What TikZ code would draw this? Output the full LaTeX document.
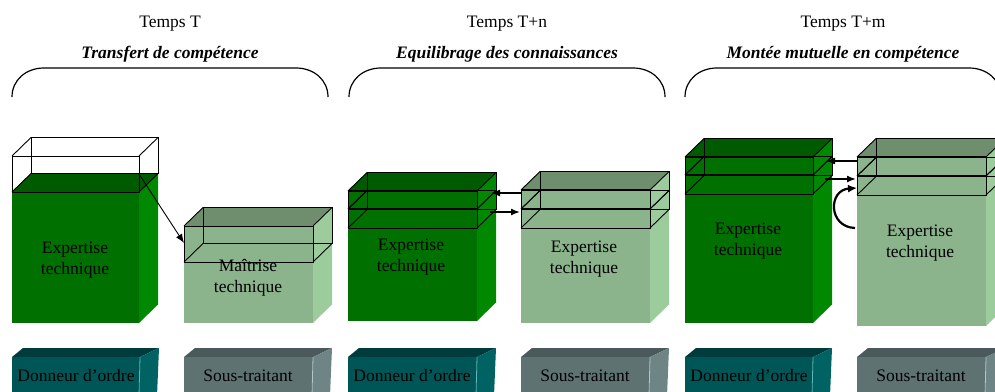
\documentclass[tikz,border=0pt]{standalone}
\usepackage{fontspec}
\setmainfont{Liberation Serif}
\usetikzlibrary{arrows.meta}

% face colours of the blocks
\definecolor{deepfront}{HTML}{007000}
\definecolor{deepside}{HTML}{008800}
\definecolor{deeptop}{HTML}{005A00}
\definecolor{palefront}{HTML}{8CB48C}
\definecolor{paleside}{HTML}{9CCC9C}
\definecolor{paletop}{HTML}{6E8E6E}
\definecolor{tealfront}{HTML}{005656}
\definecolor{tealtop}{HTML}{003C3C}
\definecolor{tealside}{HTML}{006262}
\definecolor{tealedge}{HTML}{5FB5B5}
\definecolor{slatefront}{HTML}{5E7272}
\definecolor{slatetop}{HTML}{4A5A5A}
\definecolor{slateside}{HTML}{6F8585}
\definecolor{slateedge}{HTML}{B0C8C8}

% solid block: x0 x1 ytop ybot palette
\newcommand\blockbody[5]{%
  \fill[#5front] (#1,#3) rectangle (#2,#4);
  \fill[#5side] (#2,#3) -- ++(19,-18.5) -- (#2+19,#4-18.5) -- (#2,#4) -- cycle;
  \fill[#5top] (#1,#3) -- ++(19,-18.5) -- (#2+19,#3-18.5) -- (#2,#3) -- cycle;
}
% wire-frame layer: x0 x1 ytop ybot
\newcommand\wirelayer[4]{%
  \draw[wire] (#1,#3) rectangle (#2,#4);
  \draw[wire] (#1+19,#3-18.5) rectangle (#2+19,#4-18.5);
  \draw[wire] (#1,#3) -- ++(19,-18.5) (#2,#3) -- ++(19,-18.5)
              (#1,#4) -- ++(19,-18.5) (#2,#4) -- ++(19,-18.5);
}
% label plinth at the bottom: x0 x1 palette
\newcommand\plinth[3]{%
  \fill[#3top] (#1,357) -- (#1+11,348) -- (#2+19,348) -- (#2,357) -- cycle;
  \fill[#3front] (#1,357) rectangle (#2,396);
  \fill[#3side] (#2,357) -- (#2+19,348) -- (#2+17,396) -- (#2,398) -- cycle;
  \draw[#3edge, line width=0.8pt] (#2,357) -- (#2-1,396);
}
% curly bracket over a time slot: x0 x1
\newcommand\slotbrace[2]{%
  \draw[line width=1.2pt] (#1,97) .. controls (#1,80) and (#1+14,68) .. (#1+32,68)
     -- (#2-32,68) .. controls (#2-14,68) and (#2,80) .. (#2,97);
}

\tikzset{
  wire/.style={black, line width=0.9pt},
  seam/.style={black, line width=1.8pt},
  lbl/.style={font=\fontsize{17.5}{21}\selectfont, align=center, inner sep=0pt},
  stamp/.style={font=\fontsize{17.5}{21}\selectfont, inner sep=0pt, anchor=base},
  motto/.style={font=\fontsize{17.5}{21}\selectfont\bfseries\itshape, inner sep=0pt, anchor=base},
  link/.style={-{Latex[length=9pt,width=7pt]}, line width=1.5pt},
  thinlink/.style={-{Latex[length=9pt,width=7pt]}, line width=0.9pt},
  loop/.style={-{Latex[length=9pt,width=8pt]}, line width=2.2pt},
}

\begin{document}
\begin{tikzpicture}[x=1pt, y=-1pt]
\useasboundingbox (0,0) rectangle (995,391);
\clip (0,0) rectangle (995,391);

% ---------- headings ----------
\node[stamp] (h1) at (170,27) {Temps T};
\node[stamp] (h2) at (507,27) {Temps T+n};
\node[stamp] (h3) at (843,27) {Temps T+m};
\node[motto] (m1) at (170,58) {Transfert de compétence};
\node[motto] (m2) at (507,58) {Equilibrage des connaissances};
\node[motto] (m3) at (843,58) {Montée mutuelle en compétence};
\slotbrace{12}{328}
\slotbrace{349}{665}
\slotbrace{685}{1001}

% ---------- time T ----------
\blockbody{12}{139}{192}{323}{deep}
\wirelayer{12}{139}{156}{192}
\blockbody{184}{313}{226}{323}{pale}
\wirelayer{184}{313}{226}{262}
\node[lbl] (tA) at (75,260) {Expertise\\technique};
\node[lbl] (tB) at (248,278) {Maîtrise\\technique};
\coordinate (tAout) at (139,174);
\coordinate (tBin) at (184,243);
\draw[thinlink] (tAout) -- (tBin);

% ---------- time T+n ----------
\blockbody{348}{477}{191}{321}{deep}
\wirelayer{348}{477}{191}{209}
\wirelayer{348}{477}{209}{228}
\draw[seam] (348,191) -- (477,191) (348,209) -- (477,209);
\blockbody{521}{650}{190}{323}{pale}
\wirelayer{521}{650}{190}{209}
\wirelayer{521}{650}{209}{228}
\draw[seam] (521,190) -- (650,190) (521,209) -- (650,209);
\node[lbl] (nA) at (411,257) {Expertise\\technique};
\node[lbl] (nB) at (584,259) {Expertise\\technique};
\coordinate (nBout) at (521,193);
\coordinate (nAin) at (491,193);
\coordinate (nAout) at (490,212);
\coordinate (nBin) at (520,212);
\draw[link] (nBout) -- (nAin);
\draw[link] (nAout) -- (nBin);

% ---------- time T+m ----------
\blockbody{685}{813}{157}{323}{deep}
\wirelayer{685}{813}{157}{175}
\wirelayer{685}{813}{175}{194}
\draw[seam] (685,157) -- (813,157) (685,175) -- (813,175);
\blockbody{857}{986}{157}{326}{pale}
\wirelayer{857}{986}{157}{176}
\wirelayer{857}{986}{176}{195}
\draw[seam] (857,157) -- (986,157) (857,176) -- (986,176);
\node[lbl] (mA) at (748,241) {Expertise\\technique};
\node[lbl] (mB) at (920,243) {Expertise\\technique};
\coordinate (mBout) at (857,161);
\coordinate (mAin) at (826,161);
\coordinate (mAout) at (825,179);
\coordinate (mBin) at (856,179);
\coordinate (mBloopa) at (855,228);
\coordinate (mBloopb) at (857,188);
\draw[link] (mBout) -- (mAin);
\draw[link] (mAout) -- (mBin);
\draw[loop] (mBloopa) .. controls (828,227) and (828,190) .. (mBloopb);

% ---------- plinths ----------
\plinth{12}{140}{teal}
\plinth{184}{313}{slate}
\plinth{348}{477}{teal}
\plinth{521}{650}{slate}
\plinth{685}{813}{teal}
\plinth{857}{986}{slate}
\node[stamp] (p1) at (76,381.5) {Donneur d’ordre};
\node[stamp] (p2) at (248,381.5) {Sous-traitant};
\node[stamp] (p3) at (412,381.5) {Donneur d’ordre};
\node[stamp] (p4) at (585,381.5) {Sous-traitant};
\node[stamp] (p5) at (749,381.5) {Donneur d’ordre};
\node[stamp] (p6) at (921,381.5) {Sous-traitant};
\end{tikzpicture}
\end{document}
